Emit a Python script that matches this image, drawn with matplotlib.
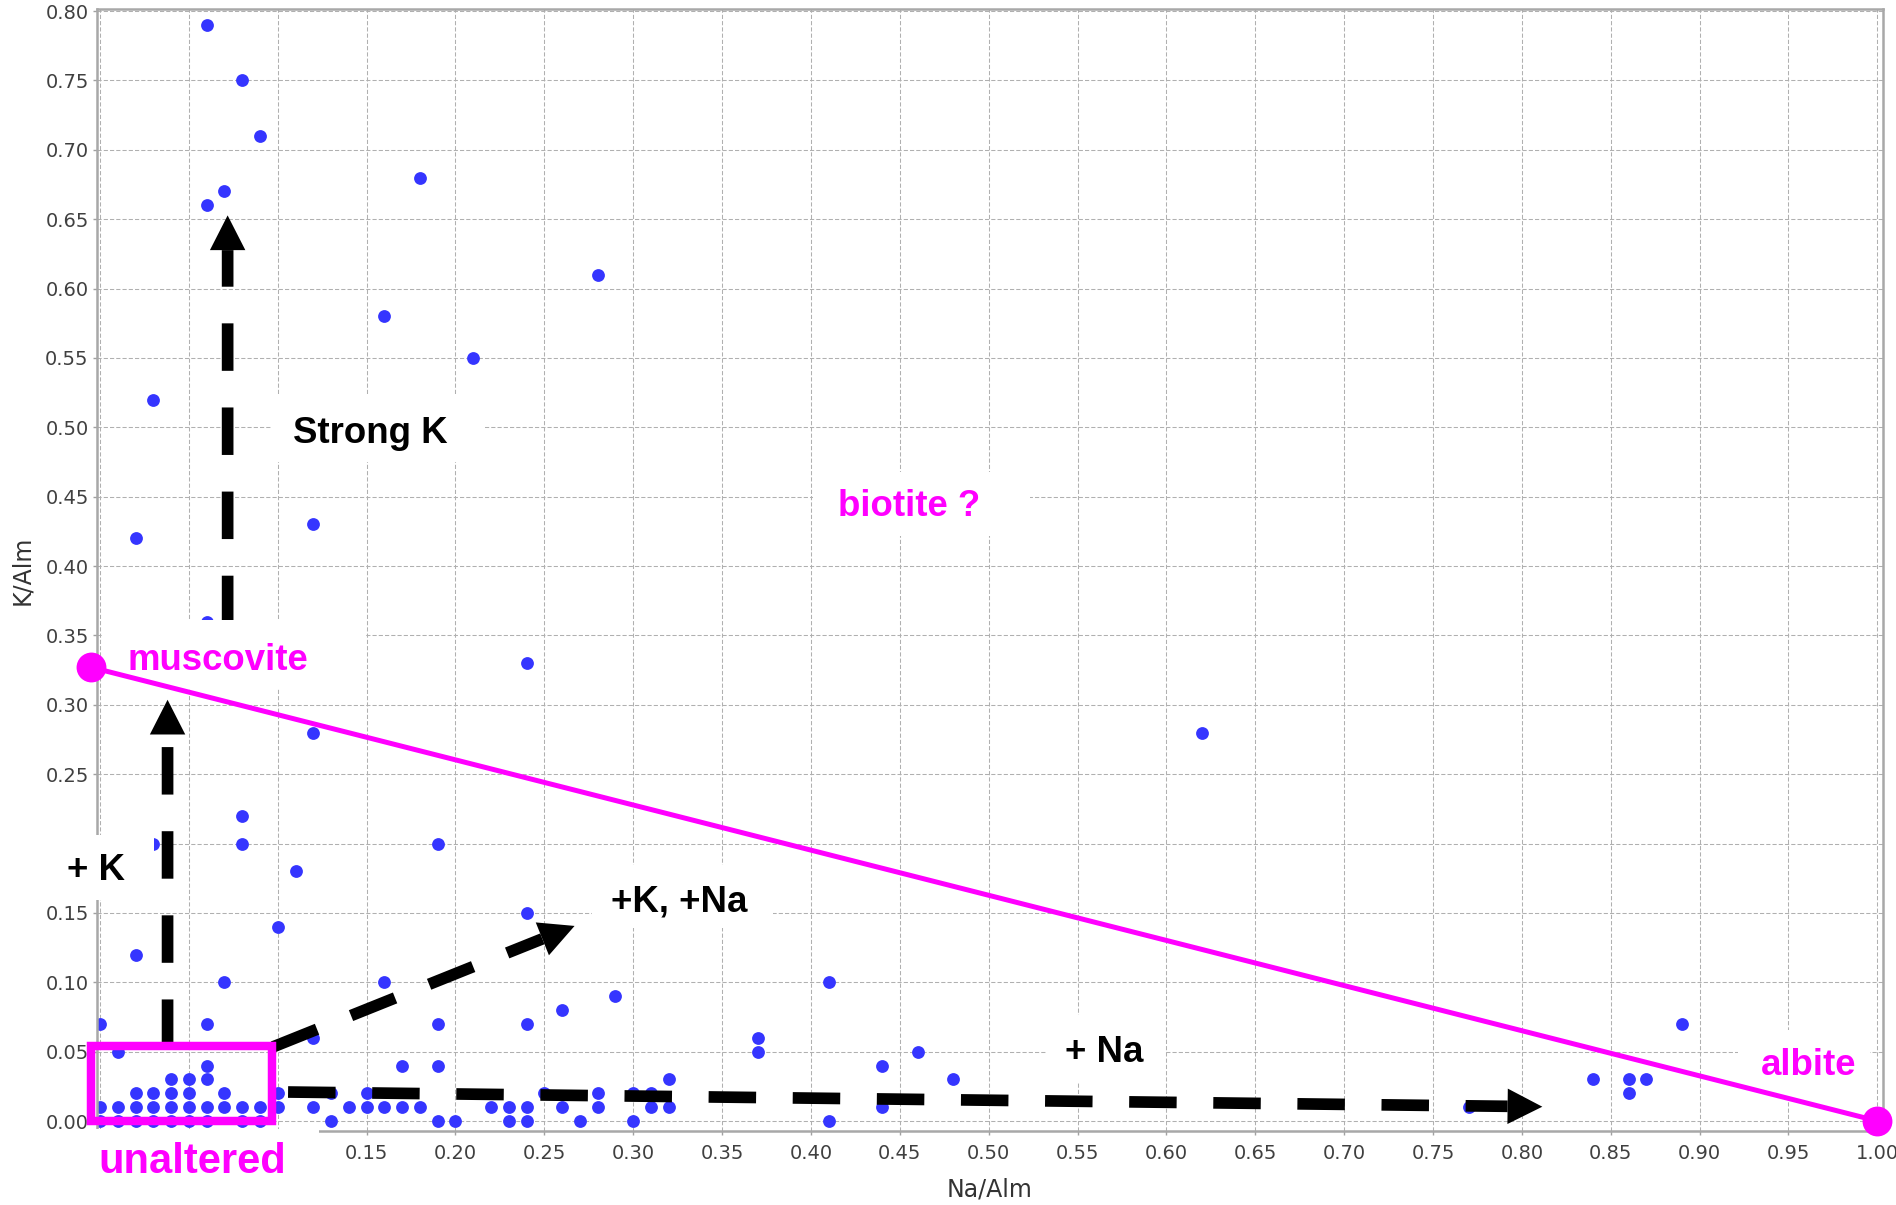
import numpy as np
from matplotlib import pyplot as plt
from matplotlib.patches import Rectangle, FancyArrowPatch

# alteration plot: Na/Alm vs K/Alm, one entry per analysed sample
na_alm = [0.00, 0.00, 0.00,
          0.01, 0.01, 0.01,
          0.02, 0.02, 0.02, 0.02, 0.02,
          0.03, 0.03, 0.03, 0.03, 0.03,
          0.04, 0.04, 0.04, 0.04,
          0.05, 0.05, 0.05, 0.05,
          0.06, 0.06, 0.06, 0.06, 0.06, 0.06, 0.06, 0.06,
          0.07, 0.07, 0.07, 0.07,
          0.08, 0.08, 0.08, 0.08, 0.08,
          0.09, 0.09, 0.09,
          0.10, 0.10, 0.10,
          0.11,
          0.12, 0.12, 0.12, 0.12,
          0.13, 0.13,
          0.14,
          0.15, 0.15,
          0.16, 0.16, 0.16,
          0.17, 0.17,
          0.18, 0.18,
          0.19, 0.19, 0.19, 0.19,
          0.20, 0.21, 0.22,
          0.23, 0.23,
          0.24, 0.24, 0.24, 0.24, 0.24,
          0.25,
          0.26, 0.26,
          0.27,
          0.28, 0.28, 0.28,
          0.29,
          0.30, 0.30,
          0.31, 0.31,
          0.32, 0.32,
          0.37, 0.37,
          0.41, 0.41,
          0.44, 0.44,
          0.46, 0.48, 0.62, 0.77, 0.84,
          0.86, 0.86,
          0.87, 0.89]
k_alm = [0.00, 0.01, 0.07,
         0.00, 0.01, 0.05,
         0.00, 0.01, 0.02, 0.12, 0.42,
         0.00, 0.01, 0.02, 0.20, 0.52,
         0.00, 0.01, 0.02, 0.03,
         0.00, 0.01, 0.02, 0.03,
         0.00, 0.01, 0.03, 0.04, 0.07, 0.36, 0.66, 0.79,
         0.01, 0.02, 0.10, 0.67,
         0.00, 0.01, 0.20, 0.22, 0.75,
         0.00, 0.01, 0.71,
         0.01, 0.02, 0.14,
         0.18,
         0.01, 0.06, 0.28, 0.43,
         0.00, 0.02,
         0.01,
         0.01, 0.02,
         0.01, 0.10, 0.58,
         0.01, 0.04,
         0.01, 0.68,
         0.00, 0.04, 0.07, 0.20,
         0.00, 0.55, 0.01,
         0.00, 0.01,
         0.00, 0.01, 0.07, 0.15, 0.33,
         0.02,
         0.01, 0.08,
         0.00,
         0.01, 0.02, 0.61,
         0.09,
         0.00, 0.02,
         0.01, 0.02,
         0.01, 0.03,
         0.05, 0.06,
         0.00, 0.10,
         0.01, 0.04,
         0.05, 0.03, 0.28, 0.01, 0.03,
         0.02, 0.03,
         0.03, 0.07]

# end members of the mixing line
muscovite = (-0.005, 0.327)
albite = (1.0, 0.0)

x_ticks = np.round(np.arange(0, 1.0001, 0.05), 2)
y_ticks = np.round(np.arange(0, 0.8001, 0.05), 2)
# the first three x labels sit under the "unaltered" box in the original
x_labels = ["" if t < 0.11 else f"{t:.2f}" for t in x_ticks]
y_labels = [f"{t:.2f}" for t in y_ticks]

MAGENTA = "#ff00ff"
BOLD = dict(family="Liberation Sans", fontweight="bold")

fig = plt.figure(figsize=(18.96, 12.05), dpi=100)
ax = fig.add_axes([0.05116, 0.06141, 0.94182, 0.93071])

ax.scatter(na_alm, k_alm, s=85, color="#3535ff", linewidths=0, zorder=2)

ax.set_xlim(-0.0017, 1.003)
ax.set_ylim(-0.0072, 0.8011)
ax.set_xticks(x_ticks)
ax.set_yticks(y_ticks)
ax.set_xticklabels(x_labels)
ax.set_yticklabels(y_labels)
ax.tick_params(axis="both", labelsize=14, labelcolor="#404040", color="#a0a0a0",
               length=3, width=1)
ax.tick_params(axis="x", pad=6)
ax.tick_params(axis="y", pad=3)
ax.grid(True, color="#b0b0b0", linestyle=(0, (4, 2)), linewidth=0.75)
ax.set_axisbelow(True)
for sp in ax.spines.values():
    sp.set_color("#a8a8a8")
    sp.set_linewidth(1.8)
ax.set_xlabel("Na/Alm", fontsize=17, color="#333333", labelpad=11)
ax.set_ylabel("K/Alm", fontsize=17, color="#333333", labelpad=8)


def dashed_arrow(x0, y0, x1, y1):
    # shaft stops at the base of the head, head is a filled wedge
    shaft = FancyArrowPatch((x0, y0), (x1, y1), arrowstyle="-", color="black",
                            lw=8.4, linestyle=(0, (4.07, 3.14)), capstyle="butt",
                            shrinkA=0, shrinkB=25, zorder=3, clip_on=False)
    head = FancyArrowPatch((x0, y0), (x1, y1),
                           arrowstyle="-|>,head_length=1.0,head_width=0.51",
                           mutation_scale=25, color="black", lw=0,
                           shrinkA=0, shrinkB=0, zorder=3, clip_on=False)
    ax.add_patch(shaft)
    ax.add_patch(head)


def label(x, y, s, color, box, size=26.4):
    bx0, bx1, by0, by1 = box
    ax.add_patch(Rectangle((bx0, by0), bx1 - bx0, by1 - by0, facecolor="white",
                           edgecolor="none", zorder=4, clip_on=False))
    ax.text(x, y, s, color=color, fontsize=size, ha="left", va="baseline",
            zorder=5, clip_on=False, **BOLD)


dashed_arrow(0.0718, 0.3588, 0.0718, 0.6527)   # strong K
dashed_arrow(0.038, 0.0534, 0.038, 0.3036)     # + K
dashed_arrow(0.0973, 0.0534, 0.267, 0.1406)    # +K, +Na
dashed_arrow(0.1058, 0.0209, 0.8115, 0.0103)   # + Na

label(0.1083, 0.489, "Strong K", "black", (0.0968, 0.216, 0.4753, 0.5222))
label(0.0152, 0.3253, "muscovite", MAGENTA, (0.0017, 0.1496, 0.3123, 0.3613))
label(-0.0188, 0.1738, "+ K", "black", (-0.0309, 0.0304, 0.1594, 0.2063))
label(0.2873, 0.151, "+K, +Na", "black", (0.2768, 0.3786, 0.1392, 0.1846))
label(0.5432, 0.0428, "+ Na", "black", (0.5322, 0.5991, 0.0281, 0.0765))
label(0.4152, 0.4358, "biotite ?", MAGENTA, (0.4011, 0.5232, 0.4214, 0.4681))
label(0.9345, 0.0332, "albite", MAGENTA, (0.9215, 0.9958, 0.0151, 0.0656))
label(-0.001, -0.0377, "unaltered", MAGENTA, (-0.0281, 0.1232, -0.0606, -0.0058), size=30)

# muscovite - albite join
ax.plot([muscovite[0], albite[0]], [muscovite[1], albite[1]], color=MAGENTA, lw=3.6,
        solid_capstyle="butt", zorder=6, clip_on=False)
ax.plot([muscovite[0], albite[0]], [muscovite[1], albite[1]], "o", color=MAGENTA,
        markersize=21.5, markeredgewidth=0, zorder=6, clip_on=False)

# unaltered field
ax.add_patch(Rectangle((-0.005, 0.0), 0.102, 0.054, facecolor="none",
                       edgecolor=MAGENTA, lw=6.1, joinstyle="miter", zorder=6,
                       clip_on=False))

fig.savefig("out.png", dpi=100)
